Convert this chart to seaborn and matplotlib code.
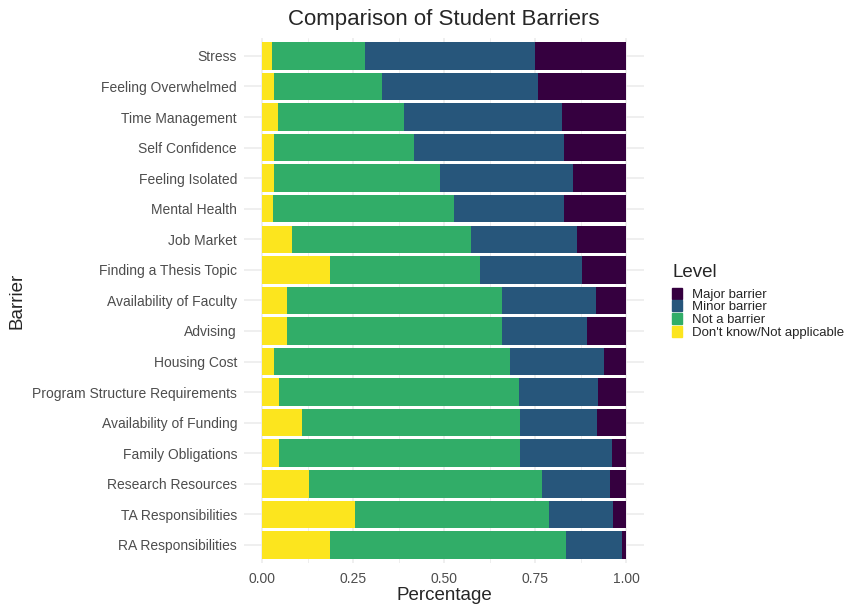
import pandas as pd
import matplotlib.pyplot as plt
import matplotlib.patches as mpatches
import seaborn as sns

# Barriers, top to bottom
barriers = ["Stress", "Feeling Overwhelmed", "Time Management", "Self Confidence",
            "Feeling Isolated", "Mental Health", "Job Market", "Finding a Thesis Topic",
            "Availability of Faculty", "Advising", "Housing Cost",
            "Program Structure Requirements", "Availability of Funding",
            "Family Obligations", "Research Resources", "TA Responsibilities",
            "RA Responsibilities"]

# Share of respondents per level
dont_know = [0.027, 0.033, 0.044, 0.033, 0.033, 0.029, 0.083, 0.186, 0.067, 0.069,
             0.033, 0.046, 0.110, 0.046, 0.129, 0.255, 0.186]
not_barrier = [0.255, 0.297, 0.346, 0.384, 0.456, 0.499, 0.492, 0.412, 0.591, 0.589,
               0.647, 0.659, 0.599, 0.663, 0.640, 0.534, 0.648]
minor_barrier = [0.468, 0.429, 0.434, 0.412, 0.365, 0.301, 0.290, 0.280, 0.258, 0.234,
                 0.259, 0.219, 0.210, 0.253, 0.186, 0.175, 0.154]
major_barrier = [0.250, 0.241, 0.176, 0.171, 0.146, 0.171, 0.135, 0.122, 0.084, 0.108,
                 0.061, 0.076, 0.081, 0.038, 0.045, 0.036, 0.012]

levels = ["Major barrier", "Minor barrier", "Not a barrier", "Don't know/Not applicable"]
colors = {"Major barrier": "#35003F", "Minor barrier": "#27567B",
          "Not a barrier": "#31AD68", "Don't know/Not applicable": "#FCE51E"}

df = pd.DataFrame({"Barrier": barriers,
                   "Don't know/Not applicable": dont_know,
                   "Not a barrier": not_barrier,
                   "Minor barrier": minor_barrier,
                   "Major barrier": major_barrier})

# cumulative ends, stacked from the left: yellow, green, blue, purple
stack = ["Don't know/Not applicable", "Not a barrier", "Minor barrier", "Major barrier"]
cum = df[stack].cumsum(axis=1)
cum["Barrier"] = df["Barrier"]

sns.set_style("white")
plt.rcParams['font.family'] = ['Liberation Sans', 'DejaVu Sans']

fig = plt.figure(figsize=(8.5, 6.06), dpi=100)
ax = fig.add_axes([0.287, 0.0705, 0.471, 0.8675])

# draw longest first so shorter segments sit on top
for lvl in reversed(stack):
    sns.barplot(data=cum, x=lvl, y="Barrier", order=barriers, color=colors[lvl],
                orient="h", width=0.9, saturation=1, linewidth=0, ax=ax, zorder=2)

ax.set_xlim(-0.05, 1.05)
ax.set_ylim(len(barriers) - 0.4, -0.6)
ax.set_xticks([0, 0.25, 0.5, 0.75, 1.0])
ax.set_xticklabels(["0.00", "0.25", "0.50", "0.75", "1.00"])
ax.set_xticks([0.125, 0.375, 0.625, 0.875], minor=True)
ax.grid(True, which="major", color="#EBEBEB", linewidth=1.1, zorder=0)
ax.grid(True, which="minor", axis="x", color="#EBEBEB", linewidth=0.6, zorder=0)
ax.set_axisbelow(True)
for s in ax.spines.values():
    s.set_visible(False)
ax.tick_params(axis="y", which="both", length=0, labelsize=10, labelcolor="#4D4D4D", pad=5)
ax.tick_params(axis="x", which="both", length=0, labelsize=10, labelcolor="#4D4D4D", pad=6)

ax.set_xlabel("Percentage", fontsize=13.5)
ax.set_ylabel("Barrier", fontsize=13.5)
ax.xaxis.set_label_coords(0.5, -0.046)
ax.yaxis.set_label_coords(-0.545, 0.5)
ax.set_title("Comparison of Student Barriers", fontsize=16, pad=9)

handles = [mpatches.Patch(color=colors[l], label=l) for l in levels]
leg = fig.legend(handles=handles, title="Level", loc="upper left", bbox_to_anchor=(0.791, 0.565),
                 frameon=False, fontsize=9.5, title_fontsize=13.5, alignment="left",
                 handlelength=0.75, handleheight=0.9, labelspacing=-0.02, handletextpad=0.75,
                 borderaxespad=0, borderpad=0)
leg._legend_box.sep = 5

fig.savefig("out.png", dpi=100)
